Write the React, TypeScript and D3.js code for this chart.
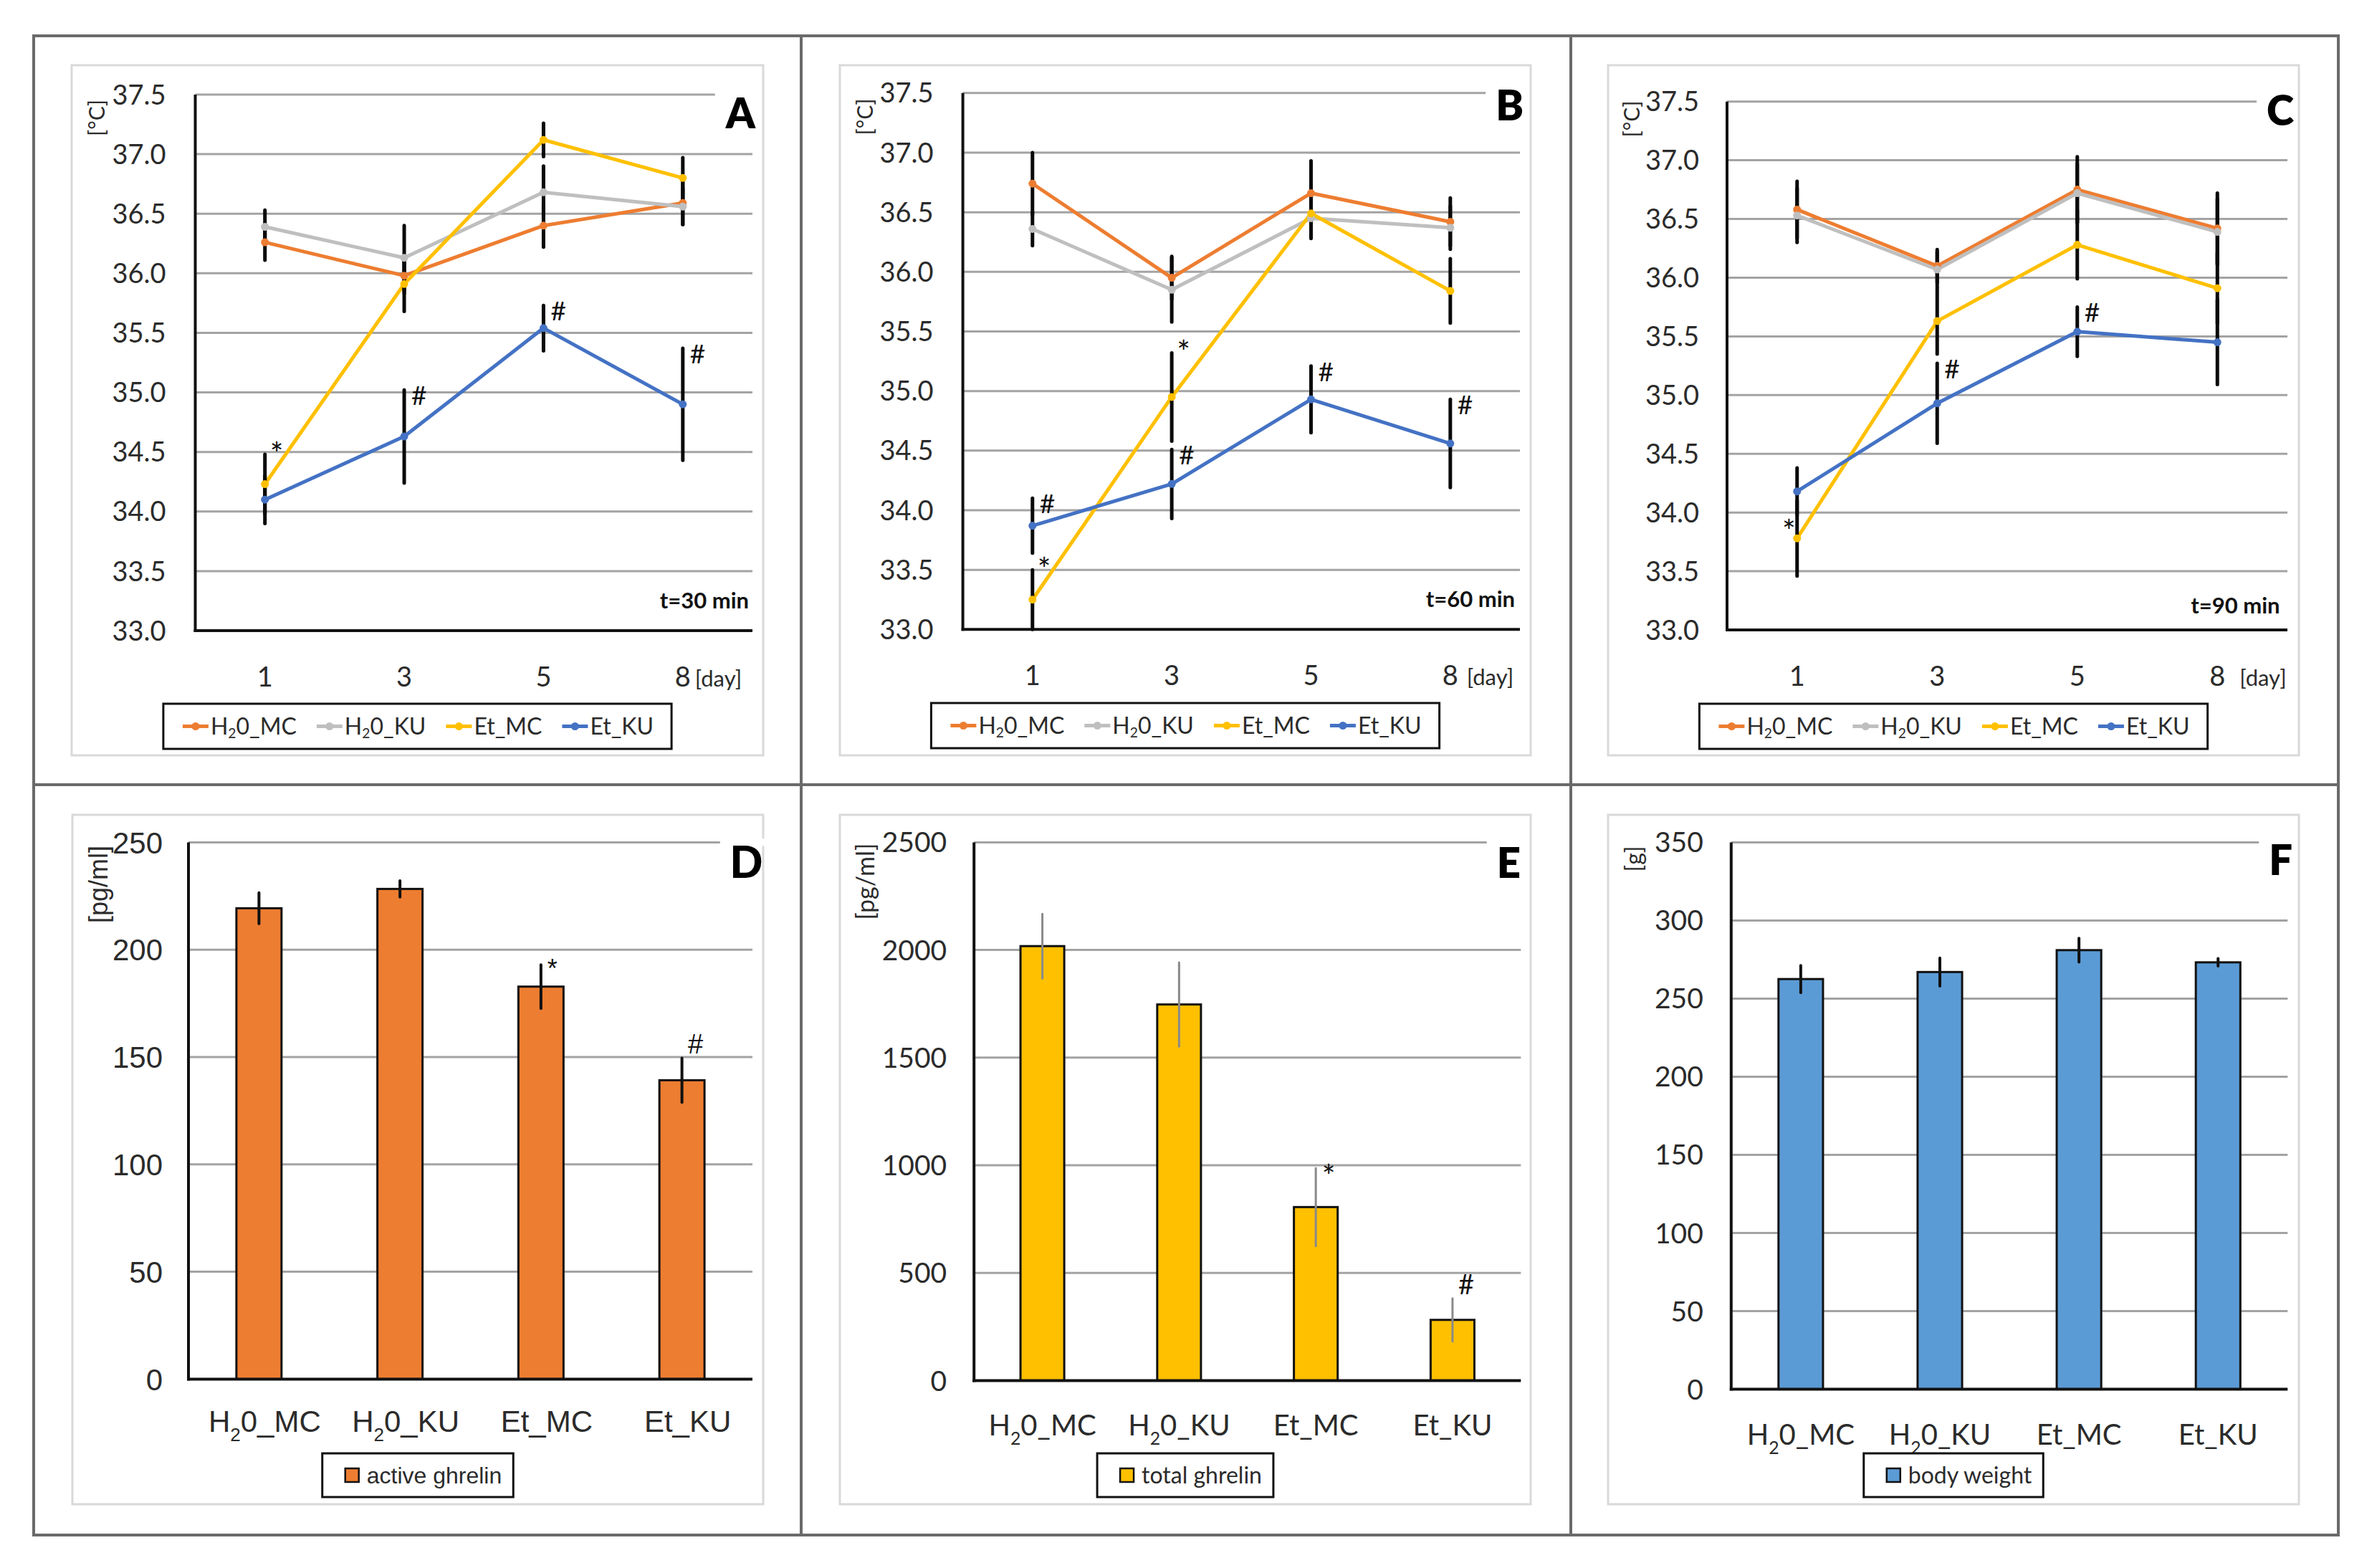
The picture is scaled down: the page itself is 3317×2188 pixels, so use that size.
import React, { useEffect, useRef } from 'react';
import * as d3 from 'd3';

const WIDTH = 3317;
const HEIGHT = 2188;

// ---------------- data ----------------
const days = ['1', '3', '5', '8'];
const groups = ['H₂0_MC', 'H₂0_KU', 'Et_MC', 'Et_KU'];
const groupColors = ['#ED7D31', '#BFBFBF', '#FFC000', '#4472C4'];
const tempTicks = [33.0, 33.5, 34.0, 34.5, 35.0, 35.5, 36.0, 36.5, 37.0, 37.5];
const timeLabels = ['t=30 min', 't=60 min', 't=90 min'];
const panelLetters = ['A', 'B', 'C', 'D', 'E', 'F'];

// Panel A – t = 30 min
const tempA_H2O_MC = [36.26, 35.98, 36.40, 36.59];
const tempA_H2O_KU = [36.39, 36.13, 36.68, 36.56];
const tempA_Et_MC = [34.23, 35.91, 37.12, 36.80];
const tempA_Et_KU = [34.10, 34.63, 35.54, 34.90];
const errA_H2O_MC = [0.15, 0.15, 0.18, 0.18];
const errA_H2O_KU = [0.14, 0.27, 0.22, 0.15];
const errA_Et_MC = [0.25, 0.23, 0.14, 0.17];
const errA_Et_KU = [0.20, 0.39, 0.19, 0.47];
const marksA = [
  { group: 2, day: 0, sym: '*' },
  { group: 3, day: 1, sym: '#' },
  { group: 3, day: 2, sym: '#' },
  { group: 3, day: 3, sym: '#' },
];

// Panel B – t = 60 min
const tempB_H2O_MC = [36.74, 35.95, 36.66, 36.42];
const tempB_H2O_KU = [36.36, 35.85, 36.45, 36.37];
const tempB_Et_MC = [33.25, 34.95, 36.49, 35.84];
const tempB_Et_KU = [33.87, 34.22, 34.93, 34.56];
const errB_H2O_MC = [0.26, 0.18, 0.27, 0.20];
const errB_H2O_KU = [0.14, 0.27, 0.17, 0.18];
const errB_Et_MC = [0.25, 0.37, 0.20, 0.27];
const errB_Et_KU = [0.23, 0.29, 0.28, 0.37];
const marksB = [
  { group: 3, day: 0, sym: '#' },
  { group: 2, day: 0, sym: '*' },
  { group: 2, day: 1, sym: '*' },
  { group: 3, day: 1, sym: '#' },
  { group: 3, day: 2, sym: '#' },
  { group: 3, day: 3, sym: '#' },
];

// Panel C – t = 90 min
const tempC_H2O_MC = [36.58, 36.10, 36.75, 36.42];
const tempC_H2O_KU = [36.53, 36.07, 36.72, 36.39];
const tempC_Et_MC = [33.78, 35.63, 36.28, 35.91];
const tempC_Et_KU = [34.18, 34.93, 35.54, 35.45];
const errC_H2O_MC = [0.24, 0.14, 0.28, 0.30];
const errC_H2O_KU = [0.23, 0.15, 0.25, 0.28];
const errC_Et_MC = [0.32, 0.28, 0.29, 0.30];
const errC_Et_KU = [0.20, 0.34, 0.21, 0.36];
const marksC = [
  { group: 2, day: 0, sym: '*', left: true },
  { group: 3, day: 1, sym: '#' },
  { group: 3, day: 2, sym: '#' },
];

// Panel D – active ghrelin [pg/ml]
const activeGhrelin = [219.3, 228.3, 182.8, 139.2];
const errActiveGhrelin = [7.2, 3.8, 10.2, 10.3];
const activeTicks = [0, 50, 100, 150, 200, 250];
const marksD = [{ group: 2, sym: '*' }, { group: 3, sym: '#' }];

// Panel E – total ghrelin [pg/ml]
const totalGhrelin = [2018, 1747, 806, 282];
const errTotalGhrelin = [150, 195, 181, 100];
const totalTicks = [0, 500, 1000, 1500, 2000, 2500];
const marksE = [{ group: 2, sym: '*' }, { group: 3, sym: '#' }];

// Panel F – body weight [g]
const bodyWeight = [262.5, 267.0, 281.0, 273.2];
const errBodyWeight = [8.7, 9.0, 7.6, 2.4];
const weightTicks = [0, 50, 100, 150, 200, 250, 300, 350];
const marksF: any[] = [];

// ---------------- layout ----------------
const CAL = 'Lato, "Open Sans", sans-serif';
const ARIAL = '"Liberation Sans", Arial, sans-serif';
const TXT = '#2b2b2b';

const linePanels = [
  {
    letter: panelLetters[0], time: timeLabels[0],
    series: [tempA_H2O_MC, tempA_H2O_KU, tempA_Et_MC, tempA_Et_KU],
    errors: [errA_H2O_MC, errA_H2O_KU, errA_Et_MC, errA_Et_KU],
    marks: marksA,
    inner: [100, 91, 1065, 1054],
    plot: { x0: 272.5, x1: 1050, y0: 132, y1: 880 },
    letterPos: { x: 1054, y: 179 }, yTitle: { x: 135, y: 164.5 },
    timePos: { x: 1045, y: 849 }, dayGap: 17, legend: [982, 1045], tickGap: 41,
  },
  {
    letter: panelLetters[1], time: timeLabels[1],
    series: [tempB_H2O_MC, tempB_H2O_KU, tempB_Et_MC, tempB_Et_KU],
    errors: [errB_H2O_MC, errB_H2O_KU, errB_Et_MC, errB_Et_KU],
    marks: marksB,
    inner: [1172, 91, 2136, 1054],
    plot: { x0: 1343.6, x1: 2121, y0: 129.8, y1: 878.3 },
    letterPos: { x: 2126, y: 168 }, yTitle: { x: 1207.7, y: 163 },
    timePos: { x: 2114, y: 847 }, dayGap: 23, legend: [981, 1044], tickGap: 41,
  },
  {
    letter: panelLetters[2], time: timeLabels[2],
    series: [tempC_H2O_MC, tempC_H2O_KU, tempC_Et_MC, tempC_Et_KU],
    errors: [errC_H2O_MC, errC_H2O_KU, errC_Et_MC, errC_Et_KU],
    marks: marksC,
    inner: [2244, 91, 3208, 1054],
    plot: { x0: 2410, x1: 3192, y0: 141.7, y1: 879 },
    letterPos: { x: 3201, y: 175 }, yTitle: { x: 2277, y: 166 },
    timePos: { x: 3181.6, y: 856 }, dayGap: 31, legend: [982, 1045], tickGap: 39,
  },
];

const barPanels = [
  {
    letter: panelLetters[3], values: activeGhrelin, errors: errActiveGhrelin, ticks: activeTicks,
    marks: marksD, color: '#ED7D31', legendText: 'active ghrelin', yTitleText: '[pg/ml]',
    inner: [101, 1137, 1065, 2099],
    plot: { x0: 263, x1: 1050, y0: 1175.4, y1: 1924.4 },
    letterPos: { x: 1065, y: 1225 }, yTitle: { x: 137, y: 1234 },
    font: ARIAL, tickSize: 42, labelSize: 42, labelDx: 8, labelDy: 74, tickGap: 36,
    errColor: '#111', errWidth: 4, titleSize: 36, letterFont: ARIAL, letterSize: 64, legendSize: 32,
  },
  {
    letter: panelLetters[4], values: totalGhrelin, errors: errTotalGhrelin, ticks: totalTicks,
    marks: marksE, color: '#FFC000', legendText: 'total ghrelin', yTitleText: '[pg/ml]',
    inner: [1172, 1137, 2136, 2099],
    plot: { x0: 1359.2, x1: 2122.3, y0: 1175.4, y1: 1926.5 },
    letterPos: { x: 2122, y: 1225 }, yTitle: { x: 1207.7, y: 1230 },
    font: CAL, tickSize: 39, labelSize: 40, labelDx: 0, labelDy: 76, tickGap: 38,
    errColor: '#8a8a8a', errWidth: 3, titleSize: 34, letterFont: CAL, letterSize: 58, legendSize: 32,
  },
  {
    letter: panelLetters[5], values: bodyWeight, errors: errBodyWeight, ticks: weightTicks,
    marks: marksF, color: '#5B9BD5', legendText: 'body weight', yTitleText: '[g]',
    inner: [2244, 1137, 3208, 2099],
    plot: { x0: 2415.8, x1: 3192.3, y0: 1175.4, y1: 1938.5 },
    letterPos: { x: 3199, y: 1221 }, yTitle: { x: 2280, y: 1198.5 },
    font: CAL, tickSize: 39, labelSize: 40, labelDx: 0, labelDy: 77, tickGap: 39,
    errColor: '#111', errWidth: 4, titleSize: 32, letterFont: CAL, letterSize: 58, legendSize: 32,
  },
];

// ---------------- helpers ----------------
function addSubLabel(text: any, label: string, subScale: number, subDy: number) {
  const parts = label.split('₂');
  if (parts.length === 1) {
    text.text(label);
    return;
  }
  text.append('tspan').text(parts[0]);
  text.append('tspan').attr('font-size', `${subScale}em`).attr('dy', subDy).text('2');
  text.append('tspan').attr('dy', -subDy).text(parts[1]);
}

function drawLetter(g: any, letter: string, pos: any, font: string, size: number, gridY: number, plotX1: number) {
  const t = g.append('text')
    .attr('x', pos.x).attr('y', pos.y)
    .attr('text-anchor', 'end')
    .attr('font-family', font).attr('font-weight', 800)
    .attr('font-size', size).attr('fill', '#000')
    .text(letter);
  const bb = (t.node() as SVGTextElement).getBBox();
  g.insert('rect', () => t.node())
    .attr('x', bb.x - 14).attr('y', gridY - 5)
    .attr('width', Math.max(plotX1, bb.x + bb.width) - (bb.x - 14) + 3)
    .attr('height', 10).attr('fill', '#fff');
}

function drawLinePanel(svg: any, p: any) {
  const g = svg.append('g');
  const [ix0, iy0, ix1, iy1] = p.inner;
  g.append('rect').attr('x', ix0).attr('y', iy0).attr('width', ix1 - ix0).attr('height', iy1 - iy0)
    .attr('fill', '#fff').attr('stroke', '#D9D9D9').attr('stroke-width', 3);

  const x = d3.scalePoint<string>().domain(days).range([p.plot.x0, p.plot.x1]).padding(0.5);
  const y = d3.scaleLinear().domain([tempTicks[0], tempTicks[tempTicks.length - 1]]).range([p.plot.y1, p.plot.y0]);
  const yMin = tempTicks[0];

  g.selectAll('line.grid').data(tempTicks.slice(1)).join('line')
    .attr('x1', p.plot.x0).attr('x2', p.plot.x1)
    .attr('y1', (d: number) => y(d)).attr('y2', (d: number) => y(d))
    .attr('stroke', '#A3A3A3').attr('stroke-width', 3);

  drawLetter(g, p.letter, p.letterPos, CAL, 58, y(tempTicks[tempTicks.length - 1]), p.plot.x1);

  g.append('line').attr('x1', p.plot.x0).attr('x2', p.plot.x0)
    .attr('y1', y(tempTicks[tempTicks.length - 1])).attr('y2', y(yMin) + 2)
    .attr('stroke', '#111').attr('stroke-width', 4);
  g.append('line').attr('x1', p.plot.x0 - 2).attr('x2', p.plot.x1)
    .attr('y1', y(yMin)).attr('y2', y(yMin))
    .attr('stroke', '#111').attr('stroke-width', 4);

  const line = d3.line<number>().x((_d, i) => x(days[i]) as number).y((d) => y(d));
  p.series.forEach((vals: number[], si: number) => {
    g.append('path').attr('d', line(vals)).attr('fill', 'none')
      .attr('stroke', groupColors[si]).attr('stroke-width', 5).attr('stroke-linejoin', 'round');
  });

  p.series.forEach((vals: number[], si: number) => {
    vals.forEach((v, i) => {
      const e = p.errors[si][i];
      g.append('line')
        .attr('x1', x(days[i])).attr('x2', x(days[i]))
        .attr('y1', y(v + e)).attr('y2', y(Math.max(yMin, v - e)))
        .attr('stroke', '#0a0a0a').attr('stroke-width', 5).attr('stroke-linecap', 'round');
    });
  });

  p.series.forEach((vals: number[], si: number) => {
    g.selectAll(null).data(vals).join('circle')
      .attr('cx', (_d: number, i: number) => x(days[i])).attr('cy', (d: number) => y(d))
      .attr('r', 5.5).attr('fill', groupColors[si]);
  });

  p.marks.forEach((m: any) => {
    const v = p.series[m.group][m.day];
    const e = p.errors[m.group][m.day];
    const cx = x(days[m.day]) as number;
    const top = y(v + e);
    const t = g.append('text').attr('font-family', CAL).attr('fill', '#111').text(m.sym);
    if (m.left) {
      t.attr('font-size', 44).attr('x', cx - 2).attr('y', y(v) + 6).attr('text-anchor', 'end');
    } else if (m.sym === '*') {
      t.attr('font-size', 44).attr('x', cx + 7).attr('y', top + 15);
    } else {
      t.attr('font-size', 37).attr('x', cx + 10).attr('y', top + 21);
    }
  });

  // y tick labels
  g.selectAll('text.ytick').data(tempTicks).join('text')
    .attr('x', p.plot.x0 - p.tickGap).attr('y', (d: number) => y(d)).attr('dy', '0.36em')
    .attr('text-anchor', 'end').attr('font-family', CAL).attr('font-size', 38).attr('fill', TXT)
    .text((d: number) => d3.format('.1f')(d));

  // x tick labels
  const labY = y(yMin) + 78;
  g.selectAll('text.xtick').data(days).join('text')
    .attr('x', (d: string) => x(d)).attr('y', labY)
    .attr('text-anchor', 'middle').attr('font-family', CAL).attr('font-size', 38).attr('fill', TXT)
    .text((d: string) => d);
  g.append('text').attr('x', (x(days[days.length - 1]) as number) + p.dayGap).attr('y', labY)
    .attr('font-family', CAL).attr('font-size', 31).attr('fill', TXT).text('[day]');

  // y title
  g.append('text').attr('transform', `translate(${p.yTitle.x},${p.yTitle.y}) rotate(-90)`)
    .attr('text-anchor', 'middle').attr('dy', '0.35em')
    .attr('font-family', CAL).attr('font-size', 30).attr('fill', TXT).text('[°C]');

  // time label
  g.append('text').attr('x', p.timePos.x).attr('y', p.timePos.y).attr('text-anchor', 'end')
    .attr('font-family', CAL).attr('font-weight', 700).attr('font-size', 31).attr('fill', '#111')
    .text(p.time);

  // legend
  const [lt, lb] = p.legend;
  const midY = (lt + lb) / 2;
  const lg = g.append('g');
  const padL = 27, lineLen = 36, gap = 3, itemGap = 28, padR = 25;
  let cursor = padL;
  groups.forEach((name, i) => {
    lg.append('line').attr('x1', cursor).attr('x2', cursor + lineLen).attr('y1', midY).attr('y2', midY)
      .attr('stroke', groupColors[i]).attr('stroke-width', 5);
    lg.append('circle').attr('cx', cursor + lineLen / 2).attr('cy', midY).attr('r', 5.5).attr('fill', groupColors[i]);
    const t = lg.append('text').attr('x', cursor + lineLen + gap).attr('y', midY + 11.5)
      .attr('font-family', CAL).attr('font-size', 32).attr('fill', TXT);
    addSubLabel(t, name, 0.6, 5);
    const w = (t.node() as SVGTextElement).getComputedTextLength();
    cursor += lineLen + gap + w + itemGap;
  });
  const boxW = cursor - itemGap + padR;
  lg.insert('rect', ':first-child').attr('x', 0).attr('y', lt).attr('width', boxW).attr('height', lb - lt)
    .attr('fill', '#fff').attr('stroke', '#111').attr('stroke-width', 3);
  lg.attr('transform', `translate(${(ix0 + ix1) / 2 - boxW / 2},0)`);
}

function drawBarPanel(svg: any, p: any) {
  const g = svg.append('g');
  const [ix0, iy0, ix1, iy1] = p.inner;
  g.append('rect').attr('x', ix0).attr('y', iy0).attr('width', ix1 - ix0).attr('height', iy1 - iy0)
    .attr('fill', '#fff').attr('stroke', '#D9D9D9').attr('stroke-width', 3);

  const x = d3.scalePoint<string>().domain(groups).range([p.plot.x0, p.plot.x1]).padding(0.5);
  const bw = x.step() * 0.32;
  const yMax = p.ticks[p.ticks.length - 1];
  const y = d3.scaleLinear().domain([0, yMax]).range([p.plot.y1, p.plot.y0]);

  g.selectAll('line.grid').data(p.ticks.slice(1)).join('line')
    .attr('x1', p.plot.x0).attr('x2', p.plot.x1)
    .attr('y1', (d: number) => y(d)).attr('y2', (d: number) => y(d))
    .attr('stroke', '#A3A3A3').attr('stroke-width', 3);

  drawLetter(g, p.letter, p.letterPos, p.letterFont, p.letterSize, y(yMax), p.plot.x1);

  g.append('line').attr('x1', p.plot.x0).attr('x2', p.plot.x0)
    .attr('y1', y(yMax)).attr('y2', y(0) + 2).attr('stroke', '#111').attr('stroke-width', 4);

  g.selectAll('rect.bar').data(p.values).join('rect')
    .attr('x', (_d: number, i: number) => (x(groups[i]) as number) - bw / 2)
    .attr('y', (d: number) => y(d)).attr('width', bw)
    .attr('height', (d: number) => y(0) - y(d))
    .attr('fill', p.color).attr('stroke', '#111').attr('stroke-width', 3);

  g.append('line').attr('x1', p.plot.x0 - 2).attr('x2', p.plot.x1)
    .attr('y1', y(0)).attr('y2', y(0)).attr('stroke', '#111').attr('stroke-width', 4);

  p.values.forEach((v: number, i: number) => {
    const e = p.errors[i];
    g.append('line').attr('x1', x(groups[i])).attr('x2', x(groups[i]))
      .attr('y1', y(v + e)).attr('y2', y(v - e))
      .attr('stroke', p.errColor).attr('stroke-width', p.errWidth).attr('stroke-linecap', 'round');
  });

  p.marks.forEach((m: any) => {
    const v = p.values[m.group];
    const e = p.errors[m.group];
    const cx = x(groups[m.group]) as number;
    const top = y(v + e);
    const t = g.append('text').attr('font-family', p.font).attr('fill', '#111')
      .attr('text-anchor', 'middle').text(m.sym);
    if (m.sym === '*') {
      if (p.font === ARIAL) t.attr('font-size', 36).attr('x', cx + 16).attr('y', top + 18);
      else t.attr('font-size', 44).attr('x', cx + 18).attr('y', top + 27);
    } else {
      t.attr('font-size', 38).attr('x', cx + 19).attr('y', top - 6);
    }
  });

  g.selectAll('text.ytick').data(p.ticks).join('text')
    .attr('x', p.plot.x0 - p.tickGap).attr('y', (d: number) => y(d)).attr('dy', '0.36em')
    .attr('text-anchor', 'end').attr('font-family', p.font).attr('font-size', p.tickSize).attr('fill', TXT)
    .text((d: number) => String(d));

  groups.forEach((name, i) => {
    const t = g.append('text').attr('x', (x(name) as number) + p.labelDx).attr('y', y(0) + p.labelDy)
      .attr('text-anchor', 'middle').attr('font-family', p.font).attr('font-size', p.labelSize).attr('fill', TXT);
    addSubLabel(t, name, 0.62, 13);
  });

  g.append('text').attr('transform', `translate(${p.yTitle.x},${p.yTitle.y}) rotate(-90)`)
    .attr('text-anchor', 'middle').attr('dy', '0.35em')
    .attr('font-family', p.font).attr('font-size', p.titleSize).attr('fill', TXT).text(p.yTitleText);

  // legend
  const lt = 2028, lb = 2089;
  const midY = (lt + lb) / 2;
  const lg = g.append('g');
  const sw = 19;
  const swX = 32;
  lg.append('rect').attr('x', swX).attr('y', midY - sw / 2).attr('width', sw).attr('height', sw)
    .attr('fill', p.color).attr('stroke', '#111').attr('stroke-width', 2.5);
  const t = lg.append('text').attr('x', swX + sw + 11).attr('y', midY + 11)
    .attr('font-family', p.font).attr('font-size', p.legendSize).attr('fill', TXT).text(p.legendText);
  const w = (t.node() as SVGTextElement).getComputedTextLength();
  const boxW = swX + sw + 11 + w + 16;
  lg.insert('rect', ':first-child').attr('x', 0).attr('y', lt).attr('width', boxW).attr('height', lb - lt)
    .attr('fill', '#fff').attr('stroke', '#111').attr('stroke-width', 3);
  lg.attr('transform', `translate(${(ix0 + ix1) / 2 - boxW / 2},0)`);
}

export default function App() {
  const ref = useRef<SVGSVGElement | null>(null);

  useEffect(() => {
    document.body.style.margin = '0';
    const svg = d3.select(ref.current);
    svg.selectAll('*').remove();
    svg.append('rect').attr('width', WIDTH).attr('height', HEIGHT).attr('fill', '#fff');

    // outer frame and dividers
    const frame = { x0: 47, y0: 50, x1: 3263, y1: 2142 };
    svg.append('rect').attr('x', frame.x0).attr('y', frame.y0)
      .attr('width', frame.x1 - frame.x0).attr('height', frame.y1 - frame.y0)
      .attr('fill', 'none').attr('stroke', '#6a6a6a').attr('stroke-width', 4);
    [1118, 2192].forEach((xv) => {
      svg.append('line').attr('x1', xv).attr('x2', xv).attr('y1', frame.y0).attr('y2', frame.y1)
        .attr('stroke', '#6a6a6a').attr('stroke-width', 4);
    });
    svg.append('line').attr('x1', frame.x0).attr('x2', frame.x1).attr('y1', 1095).attr('y2', 1095)
      .attr('stroke', '#6a6a6a').attr('stroke-width', 4);

    linePanels.forEach((p) => drawLinePanel(svg, p));
    barPanels.forEach((p) => drawBarPanel(svg, p));
  }, []);

  return (
    <svg
      ref={ref}
      width={WIDTH}
      height={HEIGHT}
      viewBox={`0 0 ${WIDTH} ${HEIGHT}`}
      style={{ display: 'block', position: 'absolute', left: 0, top: 0 }}
    />
  );
}
